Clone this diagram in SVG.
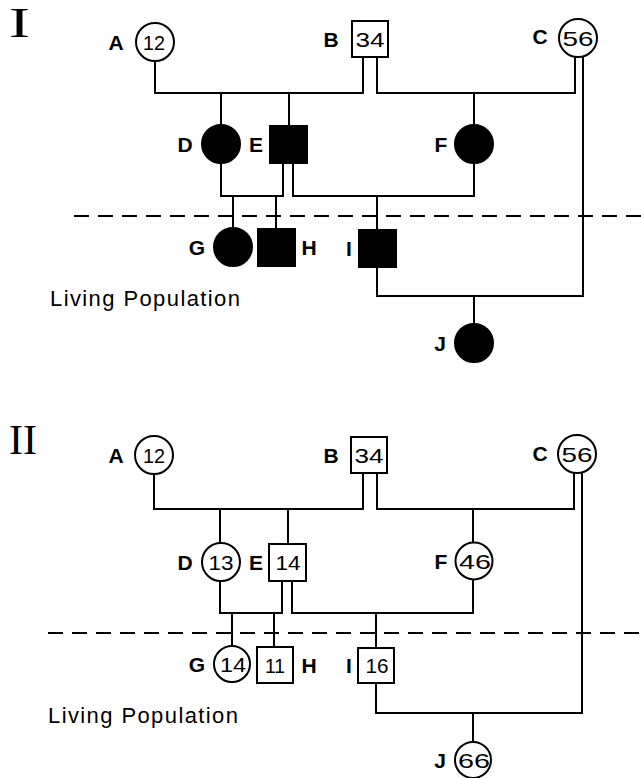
<svg xmlns="http://www.w3.org/2000/svg" width="641" height="778" viewBox="0 0 641 778">
  <style>
    .ln { fill: none; stroke: #000; stroke-width: 2; }
    .dash { fill: none; stroke: #000; stroke-width: 2; stroke-dasharray: 15 9; }
    .open { fill: #fff; stroke: #000; stroke-width: 2; }
    .aff { fill: #000; stroke: #000; stroke-width: 2; }
    .lab { font-family: "Liberation Sans", Arial, sans-serif; font-weight: bold; font-size: 21px; text-anchor: middle; fill: #000; }
    .num { font-family: "Liberation Sans", Arial, sans-serif; font-size: 21px; text-anchor: middle; fill: #000; }
    .cap { font-family: "Liberation Sans", Arial, sans-serif; font-size: 22px; fill: #000; }
    .rom { font-family: "Liberation Serif", "Times New Roman", serif; font-size: 42px; fill: #000; }
  </style>
  <rect width="641" height="778" fill="#fff"/>

  <!-- Panel I: affected status -->
  <text class="rom" x="9" y="37" textLength="21" lengthAdjust="spacingAndGlyphs">I</text>
  <g id="connectors-1">
    <path class="ln" d="M155,61 V93 H363 V57"/>
    <path class="ln" d="M377,57 V93 H575 V57"/>
    <path class="ln" d="M221,93 V125"/>
    <path class="ln" d="M289,93 V126"/>
    <path class="ln" d="M474,93 V125"/>
    <path class="ln" d="M221,163 V196 H283 V163"/>
    <path class="ln" d="M293,163 V196 H474 V163"/>
    <path class="ln" d="M233,196 V228"/>
    <path class="ln" d="M276,196 V229"/>
    <path class="ln" d="M377,196 V230"/>
    <path class="ln" d="M377,267 V296 H583 V56"/>
    <path class="ln" d="M474,296 V324"/>
    <path class="dash" d="M74,216 H641"/>
  </g>
  <g id="p1-A"><circle class="open" cx="155" cy="42" r="19"/><text class="num" x="154" y="49.5" textLength="22" lengthAdjust="spacingAndGlyphs">12</text><text class="lab" x="116" y="50">A</text></g>
  <g id="p1-B"><rect class="open" x="352" y="21" width="36" height="36"/><text class="num" x="370" y="46.5" textLength="29" lengthAdjust="spacingAndGlyphs">34</text><text class="lab" x="331" y="47">B</text></g>
  <g id="p1-C"><circle class="open" cx="578" cy="38" r="19"/><text class="num" x="578" y="45.5" textLength="31" lengthAdjust="spacingAndGlyphs">56</text><text class="lab" x="540" y="44">C</text></g>
  <g id="p1-D"><circle class="aff" cx="221" cy="144" r="19"/><text class="lab" x="185" y="152">D</text></g>
  <g id="p1-E"><rect class="aff" x="270" y="126" width="37" height="37"/><text class="lab" x="256" y="152">E</text></g>
  <g id="p1-F"><circle class="aff" cx="474" cy="144" r="19"/><text class="lab" x="441" y="152">F</text></g>
  <g id="p1-G"><circle class="aff" cx="233" cy="247" r="19"/><text class="lab" x="197" y="255">G</text></g>
  <g id="p1-H"><rect class="aff" x="258" y="229" width="37" height="37"/><text class="lab" x="309" y="255">H</text></g>
  <g id="p1-I"><rect class="aff" x="359" y="230" width="37" height="37"/><text class="lab" x="349" y="256">I</text></g>
  <g id="p1-J"><circle class="aff" cx="474" cy="343" r="19"/><text class="lab" x="440" y="351">J</text></g>
  <text class="cap" x="50" y="306" textLength="190" lengthAdjust="spacing">Living Population</text>

  <!-- Panel II: numeric values -->
  <text class="rom" x="9" y="454" textLength="28" lengthAdjust="spacingAndGlyphs">II</text>
  <g id="connectors-2">
    <path class="ln" d="M154,474 V509 H363 V473"/>
    <path class="ln" d="M377,473 V509 H574 V472"/>
    <path class="ln" d="M220,509 V543"/>
    <path class="ln" d="M288,509 V544"/>
    <path class="ln" d="M473,509 V543"/>
    <path class="ln" d="M220,581 V613 H282 V581"/>
    <path class="ln" d="M292,581 V613 H473 V580"/>
    <path class="ln" d="M232,613 V646"/>
    <path class="ln" d="M274,613 V647"/>
    <path class="ln" d="M376,613 V648"/>
    <path class="ln" d="M376,683 V713 H582 V472"/>
    <path class="ln" d="M473,713 V742"/>
    <path class="dash" d="M48,633 H641"/>
  </g>
  <g id="p2-A"><circle class="open" cx="154" cy="455" r="19"/><text class="num" x="154" y="462.5" textLength="22" lengthAdjust="spacingAndGlyphs">12</text><text class="lab" x="116" y="463">A</text></g>
  <g id="p2-B"><rect class="open" x="351" y="437" width="36" height="36"/><text class="num" x="369" y="462.5" textLength="29" lengthAdjust="spacingAndGlyphs">34</text><text class="lab" x="331" y="463">B</text></g>
  <g id="p2-C"><circle class="open" cx="577" cy="454" r="19"/><text class="num" x="577" y="461.5" textLength="31" lengthAdjust="spacingAndGlyphs">56</text><text class="lab" x="540" y="461">C</text></g>
  <g id="p2-D"><circle class="open" cx="221" cy="562" r="19"/><text class="num" x="221" y="569.5" textLength="25" lengthAdjust="spacingAndGlyphs">13</text><text class="lab" x="185" y="570">D</text></g>
  <g id="p2-E"><rect class="open" x="269" y="544" width="37" height="37"/><text class="num" x="288" y="570" textLength="25" lengthAdjust="spacingAndGlyphs">14</text><text class="lab" x="256" y="570">E</text></g>
  <g id="p2-F"><circle class="open" cx="474" cy="561" r="18.5"/><text class="num" x="475" y="568.5" textLength="32" lengthAdjust="spacingAndGlyphs">46</text><text class="lab" x="441" y="569">F</text></g>
  <g id="p2-G"><circle class="open" cx="232" cy="664" r="18"/><text class="num" x="233" y="671.5" textLength="26" lengthAdjust="spacingAndGlyphs">14</text><text class="lab" x="197" y="672">G</text></g>
  <g id="p2-H"><rect class="open" x="257" y="647" width="36" height="36"/><text class="num" x="275" y="672.5" textLength="20" lengthAdjust="spacingAndGlyphs">11</text><text class="lab" x="309" y="673">H</text></g>
  <g id="p2-I"><rect class="open" x="358" y="648" width="36" height="35"/><text class="num" x="377" y="673" textLength="23" lengthAdjust="spacingAndGlyphs">16</text><text class="lab" x="349" y="673">I</text></g>
  <g id="p2-J"><circle class="open" cx="473" cy="760" r="18"/><text class="num" x="474" y="767.5" textLength="32" lengthAdjust="spacingAndGlyphs">66</text><text class="lab" x="440" y="768">J</text></g>
  <text class="cap" x="48" y="723" textLength="190" lengthAdjust="spacing">Living Population</text>
</svg>
